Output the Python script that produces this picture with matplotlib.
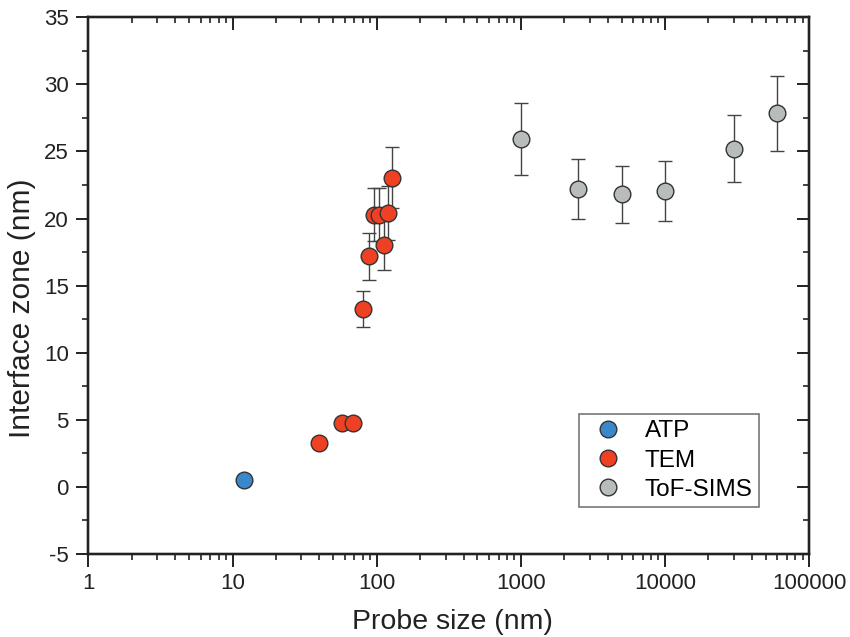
import matplotlib
matplotlib.use("Agg")
import matplotlib.pyplot as plt
from matplotlib.ticker import FixedLocator, NullFormatter, LogLocator
import numpy as np

plt.rcParams['font.family'] = ['Liberation Sans', 'DejaVu Sans']
plt.rcParams['axes.unicode_minus'] = False

atp_x = [12.0]
atp_y = [0.5]

tem_x = [40, 57, 69, 80, 88.5, 96, 104, 113, 120, 127]
tem_y = [3.3, 4.75, 4.75, 13.25, 17.2, 20.3, 20.3, 18.0, 20.4, 23.05]
tem_err = [0, 0, 0, 1.35, 1.75, 2.0, 2.0, 1.8, 2.0, 2.25]

tof_x = [1000, 2500, 5000, 10000, 30000, 60000]
tof_y = [25.95, 22.2, 21.8, 22.05, 25.2, 27.85]
tof_err = [2.67, 2.25, 2.15, 2.25, 2.5, 2.8]

x_ticks = [1, 10, 100, 1000, 10000, 100000]
x_ticklabels = ['1', '10', '100', '1000', '10000', '100000']
y_ticks = list(range(-5, 36, 5))

fig = plt.figure(figsize=(8.5, 6.37), dpi=100)
ax = fig.add_axes([0.1039, 0.1303, 0.8482, 0.8425])

ecol = '#333333'
ms = 12
ax.errorbar(tof_x, tof_y, yerr=tof_err, fmt='none', ecolor='#444444', elinewidth=1.0, capsize=5, capthick=1.0, zorder=2)
ax.plot(tof_x, tof_y, 'o', ms=ms, mfc='#b9bcbc', mec=ecol, mew=1.0, zorder=3, label='ToF-SIMS')

terr = np.array(tem_err)
mask = terr > 0
ax.errorbar(np.array(tem_x)[mask], np.array(tem_y)[mask], yerr=terr[mask], fmt='none', ecolor='#444444', elinewidth=1.0, capsize=5, capthick=1.0, zorder=2)
ax.plot(tem_x, tem_y, 'o', ms=ms, mfc='#ee4124', mec=ecol, mew=1.0, zorder=3, label='TEM')
ax.plot(atp_x, atp_y, 'o', ms=ms, mfc='#3a88c9', mec=ecol, mew=1.0, zorder=3, label='ATP')

ax.set_xscale('log')
ax.set_xlim(1, 100000)
ax.set_ylim(-5, 35)
ax.set_xticks(x_ticks)
ax.set_xticklabels(x_ticklabels)
ax.xaxis.set_minor_locator(LogLocator(base=10, subs=np.arange(2, 10)))
ax.xaxis.set_minor_formatter(NullFormatter())
ax.set_yticks(y_ticks)
ax.yaxis.set_minor_locator(FixedLocator(np.arange(-2.5, 35, 5)))

tc = '#222222'
for s in ax.spines.values():
    s.set_linewidth(1.6)
    s.set_color(tc)

ax.tick_params(which='major', direction='out', length=9, width=1.4, labelsize=16, colors=tc, pad=5)
ax.tick_params(which='minor', direction='out', length=4, width=1.2, colors=tc)

# mirrored ticks pointing inward on top/right
ax2 = ax.twiny()
ax2.set_xscale('log')
ax2.set_xlim(ax.get_xlim())
ax2.set_xticks(x_ticks)
ax2.xaxis.set_minor_locator(LogLocator(base=10, subs=np.arange(2, 10)))
ax2.xaxis.set_minor_formatter(NullFormatter())
ax2.tick_params(which='major', direction='in', length=9, width=1.4, labeltop=False, colors=tc)
ax2.tick_params(which='minor', direction='in', length=4, width=1.2, colors=tc)
ax3 = ax.twinx()
ax3.set_ylim(ax.get_ylim())
ax3.set_yticks(y_ticks)
ax3.yaxis.set_minor_locator(FixedLocator(np.arange(-2.5, 35, 5)))
ax3.tick_params(which='major', direction='in', length=9, width=1.4, labelright=False, colors=tc)
ax3.tick_params(which='minor', direction='in', length=4, width=1.2, colors=tc)
for a in (ax2, ax3):
    for s in a.spines.values():
        s.set_linewidth(1.6)
        s.set_color(tc)

ax.set_xlabel('Probe size (nm)', fontsize=20.5, color=tc)
ax.set_ylabel('Interface zone (nm)', fontsize=21.5, color=tc)
ax.xaxis.set_label_coords(0.505, -0.103)
ax.yaxis.set_label_coords(-0.072, 0.458)

h, l = ax.get_legend_handles_labels()
order = [2, 1, 0]
leg = ax3.legend([h[i] for i in order], [l[i] for i in order], loc='lower right',
                 bbox_to_anchor=(0.930, 0.0876), borderaxespad=0, fontsize=17.5,
                 frameon=True, fancybox=False, edgecolor='#555555',
                 handletextpad=0.55, borderpad=0.25, labelspacing=0.3,
                 handlelength=1.9, markerscale=1.0)
leg.get_frame().set_linewidth(1.2)

fig.savefig('out.png', dpi=100)
